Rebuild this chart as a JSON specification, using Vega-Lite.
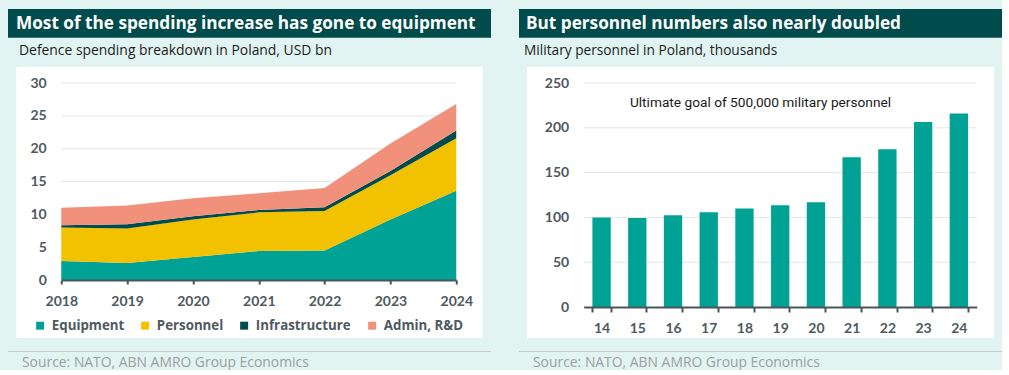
{
  "$schema": "https://vega.github.io/schema/vega-lite/v6.json",
  "background": "#e2f4f1",
  "padding": {"left": 7, "top": 9, "right": 0, "bottom": 0},
  "config": {
    "view": {"stroke": null},
    "font": "Lato",
    "axis": {"labelFont": "Lato", "labelFontWeight": "bold", "labelFontSize": 14, "labelColor": "#4e5960", "labelFlush": false, "domain": true, "ticks": true, "domainColor": "#4a545b", "tickColor": "#4a545b"}
  },
  "hconcat": [
    {
      "spacing": 12,
      "center": true,
      "vconcat": [
        {
          "spacing": 9,
          "center": true,
          "vconcat": [
            {
              "width": 483,
              "height": 28.7,
              "view": {"fill": "#004b4b", "stroke": null},
              "data": {"values": [{"t": "Most of the spending increase has gone to equipment"}]},
              "mark": {"type": "text", "align": "left", "baseline": "middle", "dx": 8, "dy": 1, "font": "Open Sans", "fontSize": 17.2, "fontWeight": "bold", "color": "#ffffff"},
              "encoding": {
                "text": {"field": "t", "type": "nominal"},
                "x": {"datum": 0, "type": "quantitative", "scale": {"domain": [0, 1]}, "axis": null}
              },
              "title": {"text": "Defence spending breakdown in Poland, USD bn", "orient": "bottom", "anchor": "start", "offset": 6, "dx": 11, "fontSize": 13.9, "fontWeight": "normal", "color": "#1c1c1c", "font": "Open Sans"}
            },
            {
              "width": 466.5,
              "height": 271,
              "view": {"fill": "#ffffff", "stroke": null},
              "layer": [
                {
                  "data": {"values": [{"g": 5}, {"g": 10}, {"g": 15}, {"g": 20}, {"g": 25}, {"g": 30}]},
                  "mark": {"type": "rule", "color": "#e3e6e6", "strokeWidth": 1},
                  "encoding": {
                    "x": {"datum": 2018, "type": "quantitative", "scale": {"domain": [2018, 2024], "range": [45, 440], "nice": false, "zero": false}},
                    "x2": {"datum": 2024},
                    "y": {"field": "g", "type": "quantitative", "scale": {"domain": [0, 30], "range": [213, 16], "nice": false}}
                  }
                },
                {
                  "data": {"values": [
                    {"year": 2018, "cat": "Equipment", "v": 2.9, "o": 1},
                    {"year": 2018, "cat": "Personnel", "v": 5.1, "o": 2},
                    {"year": 2018, "cat": "Infrastructure", "v": 0.35, "o": 3},
                    {"year": 2018, "cat": "Admin, R&D", "v": 2.65, "o": 4},
                    {"year": 2019, "cat": "Equipment", "v": 2.6, "o": 1},
                    {"year": 2019, "cat": "Personnel", "v": 5.25, "o": 2},
                    {"year": 2019, "cat": "Infrastructure", "v": 0.65, "o": 3},
                    {"year": 2019, "cat": "Admin, R&D", "v": 2.85, "o": 4},
                    {"year": 2020, "cat": "Equipment", "v": 3.5, "o": 1},
                    {"year": 2020, "cat": "Personnel", "v": 5.7, "o": 2},
                    {"year": 2020, "cat": "Infrastructure", "v": 0.5, "o": 3},
                    {"year": 2020, "cat": "Admin, R&D", "v": 2.75, "o": 4},
                    {"year": 2021, "cat": "Equipment", "v": 4.4, "o": 1},
                    {"year": 2021, "cat": "Personnel", "v": 5.9, "o": 2},
                    {"year": 2021, "cat": "Infrastructure", "v": 0.35, "o": 3},
                    {"year": 2021, "cat": "Admin, R&D", "v": 2.55, "o": 4},
                    {"year": 2022, "cat": "Equipment", "v": 4.5, "o": 1},
                    {"year": 2022, "cat": "Personnel", "v": 6.0, "o": 2},
                    {"year": 2022, "cat": "Infrastructure", "v": 0.56, "o": 3},
                    {"year": 2022, "cat": "Admin, R&D", "v": 2.94, "o": 4},
                    {"year": 2023, "cat": "Equipment", "v": 9.2, "o": 1},
                    {"year": 2023, "cat": "Personnel", "v": 6.75, "o": 2},
                    {"year": 2023, "cat": "Infrastructure", "v": 0.65, "o": 3},
                    {"year": 2023, "cat": "Admin, R&D", "v": 4.2, "o": 4},
                    {"year": 2024, "cat": "Equipment", "v": 13.6, "o": 1},
                    {"year": 2024, "cat": "Personnel", "v": 8.0, "o": 2},
                    {"year": 2024, "cat": "Infrastructure", "v": 1.15, "o": 3},
                    {"year": 2024, "cat": "Admin, R&D", "v": 4.05, "o": 4}
                  ]},
                  "mark": {"type": "area", "interpolate": "linear"},
                  "encoding": {
                    "x": {
                      "field": "year", "type": "quantitative",
                      "scale": {"domain": [2018, 2024], "range": [45, 440], "nice": false, "zero": false},
                      "axis": {"values": [2018, 2019, 2020, 2021, 2022, 2023, 2024], "format": "d", "title": null, "orient": "bottom", "offset": -58, "grid": false, "domain": true, "domainColor": "#4a545b", "domainWidth": 2, "ticks": true, "tickColor": "#4a545b", "tickWidth": 2, "tickSize": 4, "labelPadding": 10, "labelFlush": false, "zindex": 1}
                    },
                    "y": {
                      "field": "v", "type": "quantitative", "stack": "zero",
                      "scale": {"domain": [0, 30], "range": [213, 16], "nice": false},
                      "axis": {"values": [0, 5, 10, 15, 20, 25, 30], "title": null, "offset": -45, "grid": false, "domain": false, "ticks": false, "labelPadding": 15}
                    },
                    "color": {
                      "field": "cat", "type": "nominal",
                      "scale": {"domain": ["Equipment", "Personnel", "Infrastructure", "Admin, R&D"], "range": ["#00a295", "#f2c100", "#004b4b", "#f2917b"]},
                      "legend": {"orient": "none", "direction": "horizontal", "legendX": 25.5, "legendY": 310, "title": null, "symbolType": "square", "symbolSize": 64, "symbolStrokeWidth": 0, "labelFont": "Open Sans", "labelFontSize": 13.3, "labelFontWeight": "bold", "labelColor": "#4e5960", "labelOffset": 5, "columnPadding": 14, "padding": 0}
                    },
                    "order": {"field": "o", "type": "quantitative"}
                  }
                }
              ]
            }
          ]
        },
        {
          "width": 483,
          "height": 1,
          "view": {"fill": "#c8cccb", "stroke": null},
          "data": {"values": [{}]},
          "mark": {"type": "rule", "opacity": 0},
          "encoding": {},
          "title": {"text": "Source: NATO, ABN AMRO Group Economics", "orient": "bottom", "anchor": "start", "offset": 4, "dx": 14.5, "fontSize": 13.9, "fontWeight": "normal", "color": "#9ba0a0", "font": "Open Sans"}
        }
      ]
    },
    {
      "spacing": 12,
      "center": true,
      "vconcat": [
        {
          "spacing": 9,
          "center": true,
          "vconcat": [
            {
              "width": 483,
              "height": 28.7,
              "view": {"fill": "#004b4b", "stroke": null},
              "data": {"values": [{"t": "But personnel numbers also nearly doubled"}]},
              "mark": {"type": "text", "align": "left", "baseline": "middle", "dx": 7, "dy": 1, "font": "Open Sans", "fontSize": 17.2, "fontWeight": "bold", "color": "#ffffff"},
              "encoding": {
                "text": {"field": "t", "type": "nominal"},
                "x": {"datum": 0, "type": "quantitative", "scale": {"domain": [0, 1]}, "axis": null}
              },
              "title": {"text": "Military personnel in Poland, thousands", "orient": "bottom", "anchor": "start", "offset": 6, "dx": 5, "fontSize": 13.7, "fontWeight": "normal", "color": "#1c1c1c", "font": "Open Sans"}
            },
            {
              "width": 467,
              "height": 271,
              "view": {"fill": "#ffffff", "stroke": null},
              "resolve": {"scale": {"x": "independent"}},
              "layer": [
                {
                  "data": {"values": [{"g": 50}, {"g": 100}, {"g": 150}, {"g": 200}, {"g": 250}]},
                  "mark": {"type": "rule", "color": "#e3e6e6", "strokeWidth": 1},
                  "encoding": {
                    "x": {"datum": 0, "type": "quantitative", "scale": {"domain": [0, 1], "range": [56.7, 449.7], "nice": false, "zero": false}, "axis": null},
                    "x2": {"datum": 1},
                    "y": {"field": "g", "type": "quantitative", "scale": {"domain": [0, 250], "range": [240, 16], "nice": false}, "axis": {"values": [0, 50, 100, 150, 200, 250], "title": null, "offset": -56.7, "grid": false, "domain": false, "ticks": false, "labelPadding": 15}}
                  }
                },
                {
                  "layer": [
                    {
                      "data": {"values": [
                        {"yr": "14", "v": 100},
                        {"yr": "15", "v": 99.4},
                        {"yr": "16", "v": 102.3},
                        {"yr": "17", "v": 105.7},
                        {"yr": "18", "v": 110},
                        {"yr": "19", "v": 113.5},
                        {"yr": "20", "v": 116.8},
                        {"yr": "21", "v": 167},
                        {"yr": "22", "v": 176},
                        {"yr": "23", "v": 206.5},
                        {"yr": "24", "v": 216}
                      ]},
                      "mark": {"type": "bar", "color": "#00a295"},
                      "encoding": {
                        "x": {
                          "field": "yr", "type": "ordinal",
                          "scale": {"range": [56.7, 449.7], "paddingInner": 0.487, "paddingOuter": 0.2435},
                          "axis": {"title": null, "orient": "bottom", "offset": -31, "labelAngle": 0, "grid": false, "domain": true, "domainColor": "#4a545b", "domainWidth": 2, "ticks": true, "tickBand": "extent", "tickColor": "#4a545b", "tickWidth": 2, "tickSize": 5, "labelPadding": 9, "zindex": 1}
                        },
                        "y": {
                          "field": "v", "type": "quantitative",
                          "scale": {"domain": [0, 250], "range": [240, 16], "nice": false},
                          "axis": {"values": [0, 50, 100, 150, 200, 250], "title": null, "offset": -56.7, "grid": false, "domain": false, "ticks": false, "labelPadding": 15}
                        }
                      }
                    },
                    {
                      "data": {"values": [{"yr": "18", "v": 228, "t": "Ultimate goal of 500,000 military personnel"}]},
                      "mark": {"type": "text", "align": "center", "baseline": "middle", "dx": 16, "font": "Roboto", "fontSize": 13.7, "color": "#1a1a1a"},
                      "encoding": {
                        "x": {"field": "yr", "type": "ordinal"},
                        "y": {"field": "v", "type": "quantitative"},
                        "text": {"field": "t", "type": "nominal"}
                      }
                    }
                  ]
                }
              ]
            }
          ]
        },
        {
          "width": 483,
          "height": 1,
          "view": {"fill": "#c8cccb", "stroke": null},
          "data": {"values": [{}]},
          "mark": {"type": "rule", "opacity": 0},
          "encoding": {},
          "title": {"text": "Source: NATO, ABN AMRO Group Economics", "orient": "bottom", "anchor": "start", "offset": 4, "dx": 14.5, "fontSize": 13.9, "fontWeight": "normal", "color": "#9ba0a0", "font": "Open Sans"}
        }
      ]
    }
  ],
  "spacing": 27
}
